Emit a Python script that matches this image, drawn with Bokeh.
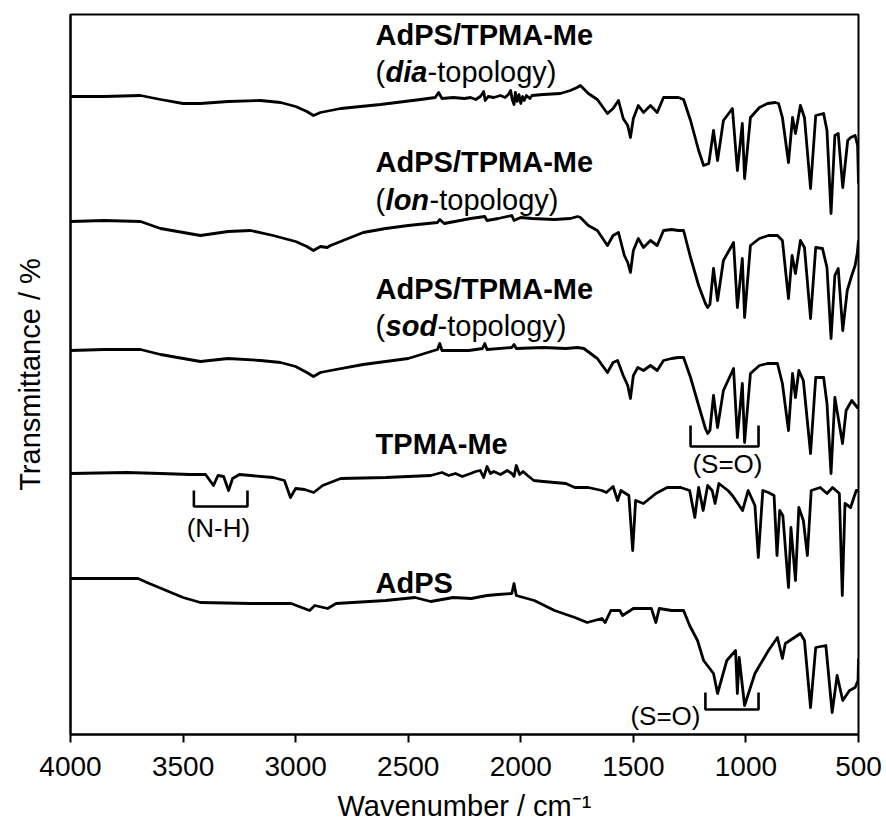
from bokeh.plotting import figure
from bokeh.models import Range1d, FixedTicker
from bokeh.core.properties import value
from bokeh.embed import file_html
from bokeh.resources import INLINE

# ---------------- data (wavenumber / cm-1, transmittance in arbitrary stacked units) -------------
wn_dia = [4000, 3850, 3689, 3600, 3500, 3423, 3300, 3156, 3067, 3000, 2950, 2921, 2890, 2845, 2800,
          2623, 2445, 2380, 2365, 2350, 2300, 2250, 2223, 2200, 2180, 2170, 2165, 2158, 2145, 2120,
          2090, 2070, 2055, 2045, 2038, 2030, 2024, 2016, 2008, 2000, 1992, 1985, 1975, 1960, 1950,
          1900, 1824, 1780, 1750, 1735, 1700, 1660, 1615, 1590, 1566,
          1545, 1525, 1513, 1500, 1478, 1455, 1424, 1394, 1366, 1330, 1300, 1277, 1246, 1210, 1188,
          1165, 1144, 1126, 1100, 1060, 1038, 1016, 1006, 980, 940, 904, 870, 855, 838, 811, 793,
          780, 758, 740, 713, 690, 655, 640, 622, 605, 590, 570, 548, 535, 515, 504, 500]
t_dia = [638, 638, 639, 635, 631, 631, 633, 634, 632, 628, 623, 619, 622, 624, 626,
         630, 635, 637, 642, 636, 637, 636, 637, 635, 638, 641, 643, 634, 638, 637,
         639, 637, 640, 644, 635, 630, 642, 633, 640, 631, 638, 634, 639, 636, 639,
         640, 641, 644, 647, 649, 641, 635, 621, 626, 634,
         616, 609, 597, 616, 629, 622, 629, 622, 637, 637, 637, 635, 614, 584, 569,
         571, 604, 574, 614, 626, 564, 611, 556, 617, 627, 631, 632, 631, 617, 572, 617,
         601, 629, 617, 546, 619, 621, 604, 521, 599, 601, 547, 594, 597, 599, 589, 551]

wn_lon = [4000, 3850, 3689, 3600, 3423, 3300, 3200, 3100, 3067, 3000, 2950, 2921, 2890, 2860, 2845,
          2700, 2600, 2500, 2370, 2360, 2340, 2223, 2160, 2150, 2100, 2040, 2030, 2000, 1950, 1850,
          1780, 1748, 1735, 1700, 1660, 1615, 1590, 1566, 1540, 1525, 1513, 1500, 1478, 1455, 1424,
          1394, 1366, 1330, 1300, 1277, 1246, 1210, 1180, 1170, 1160, 1144, 1126, 1100, 1055, 1038,
          1016, 1006, 980, 940, 900, 860, 838, 811, 795, 780, 758, 740, 713, 690, 660, 640,
          622, 605, 590, 570, 550, 530, 515, 505, 500]
t_lon = [513, 514, 513, 506, 499, 503, 504, 499, 497, 493, 488, 484, 488, 487, 489,
         502, 506, 509, 512, 515, 511, 516, 518, 514, 516, 519, 514, 517, 516, 515,
         516, 518, 517, 509, 504, 489, 499, 502, 479, 472, 462, 484, 496, 487, 494,
         489, 504, 505, 504, 504, 477, 449, 431, 427, 430, 466, 434, 474, 492, 427,
         476, 417, 489, 496, 499, 499, 494, 436, 479, 461, 494, 487, 416, 487, 486, 467,
         396, 459, 466, 404, 444, 459, 469, 482, 494]

wn_sod = [4000, 3850, 3689, 3600, 3423, 3300, 3156, 3067, 3000, 2950, 2921, 2890, 2845, 2700, 2600,
          2500, 2370, 2360, 2350, 2230, 2170, 2160, 2150, 2040, 2030, 2020, 1900, 1800, 1748, 1720,
          1660, 1615, 1590, 1570, 1545, 1525, 1513, 1500, 1480, 1455, 1424, 1394, 1366, 1330, 1300,
          1277, 1246, 1210, 1180, 1170, 1160, 1144, 1126, 1100, 1055, 1038, 1016, 1006, 980, 940,
          904, 860, 838, 811, 793, 780, 765, 745, 713, 690, 655, 640, 622, 605, 571, 555,
          530, 505, 500]
t_sod = [384, 385, 385, 380, 373, 376, 374, 372, 368, 362, 358, 362, 364, 370, 373,
         376, 385, 391, 384, 384, 386, 391, 385, 387, 390, 386, 387, 386, 387, 386,
         376, 362, 372, 374, 359, 349, 336, 359, 367, 364, 369, 364, 374, 376, 377,
         377, 357, 329, 306, 301, 304, 339, 307, 344, 366, 297, 351, 292, 361, 369,
         371, 371, 351, 304, 361, 337, 364, 354, 281, 357, 357, 331, 261, 337, 291, 324,
         334, 327, 327]

wn_tpma = [4000, 3750, 3600, 3470, 3400, 3365, 3345, 3320, 3298, 3280, 3250, 3100, 3050, 3023, 3000,
           2960, 2920, 2880, 2800, 2600, 2400, 2350, 2320, 2290, 2260, 2223, 2200, 2180, 2165, 2150,
           2135, 2120, 2090, 2060, 2040, 2030, 2020, 2005, 1990, 1970, 1942, 1900, 1800, 1760,
           1700, 1640, 1620, 1590, 1570, 1555, 1520, 1503, 1490,
           1455, 1400, 1350, 1290, 1250, 1227, 1210, 1190, 1170, 1150, 1137, 1120, 1080, 1060, 1015,
           990, 960, 945, 925, 900, 875, 862, 850, 836, 811, 800, 780, 765, 745, 727, 710,
           670, 640, 615, 585, 572, 560, 535, 510, 500]
t_tpma = [261, 262, 261, 260, 260, 249, 259, 258, 244, 256, 260, 257, 254, 237, 246,
          245, 242, 249, 256, 257, 259, 262, 259, 261, 258, 261, 263, 264, 257, 268,
          261, 263, 260, 264, 261, 258, 269, 260, 263, 259, 254, 253, 251, 247,
          247, 244, 242, 248, 234, 244, 239, 184, 234,
          231, 241, 247, 247, 244, 217, 247, 224, 249, 244, 231, 251, 244, 239, 224,
          244, 229, 177, 244, 242, 239, 179, 224, 219, 147, 207, 154, 227, 214, 179, 244,
          247, 241, 247, 241, 139, 231, 227, 244, 244]

wn_adps = [4000, 3850, 3700, 3650, 3500, 3423, 3200, 3020, 2938, 2915, 2858, 2820, 2600, 2470, 2400,
           2300, 2220, 2150, 2100, 2040, 2030, 2020, 1940, 1850, 1760, 1705, 1640, 1625, 1600, 1560,
           1548, 1500, 1420, 1400, 1385, 1330, 1277, 1250, 1215, 1188, 1144, 1126, 1085, 1046, 1038,
           1030, 1006, 960, 900, 860, 838, 825, 758, 740, 713, 690, 645, 617, 595, 583,
           570, 540, 515, 502, 500]
t_adps = [156, 156, 156, 151, 137, 132, 131, 131, 124, 129, 126, 131, 134, 137, 133,
          137, 136, 139, 140, 141, 151, 139, 134, 124, 117, 112, 116, 112, 124, 124,
          119, 126, 126, 112, 126, 124, 124, 109, 94, 74, 61, 41, 74, 84, 41,
          77, 29, 61, 84, 97, 76, 91, 101, 94, 27, 87, 89, 22, 59, 47,
          34, 44, 47, 54, 76]

series = [(wn_dia, t_dia), (wn_lon, t_lon), (wn_sod, t_sod), (wn_tpma, t_tpma), (wn_adps, t_adps)]

x_ticks = [4000, 3500, 3000, 2500, 2000, 1500, 1000, 500]

label_main = ["AdPS/TPMA-Me", "AdPS/TPMA-Me", "AdPS/TPMA-Me", "TPMA-Me", "AdPS"]
label_topo = ["dia", "lon", "sod"]

# band brackets: (wn_left, wn_right, y_bottom, y_top)
nh_bracket = (3452, 3214, 228, 244)
so_bracket_upper = (1246, 944, 288, 309)
so_bracket_lower = (1180, 944, 25, 42)

# ---------------- figure ----------------
FONT = "Liberation Sans"
p = figure(width=886, height=825, output_backend="svg", toolbar_location=None,
           x_range=Range1d(4000, 500), y_range=Range1d(0, 720),
           min_border_left=70, min_border_right=28, min_border_top=14, min_border_bottom=91)
p.background_fill_color = "white"
p.border_fill_color = "white"
p.outline_line_color = "black"
p.outline_line_width = 2
p.xgrid.visible = False
p.ygrid.visible = False

for wn, t in series:
    p.line(wn, t, line_color="black", line_width=2.8, line_join="round")

# x axis
xa = p.xaxis[0]
xa.ticker = FixedTicker(ticks=x_ticks)
xa.axis_label = "Wavenumber / cm\u207b\u00b9"
xa.axis_label_text_font = FONT
xa.axis_label_text_font_size = "29px"
xa.axis_label_text_font_style = "normal"
xa.axis_label_text_color = "black"
xa.axis_label_standoff = 11
xa.major_label_text_font = FONT
xa.major_label_text_font_size = "28px"
xa.major_label_text_color = "black"
xa.major_label_standoff = 14
xa.major_tick_in = 0
xa.major_tick_out = 8
xa.major_tick_line_width = 2
xa.major_tick_line_color = "black"
xa.minor_tick_line_color = None
xa.axis_line_width = 2
xa.axis_line_color = "black"

# y axis
ya = p.yaxis[0]
ya.ticker = FixedTicker(ticks=[])
ya.axis_label = "Transmittance / %"
ya.axis_label_text_font = FONT
ya.axis_label_text_font_size = "29px"
ya.axis_label_text_font_style = "normal"
ya.axis_label_text_color = "black"
ya.axis_label_standoff = 25
ya.major_label_text_font_size = "0px"
ya.major_tick_line_color = None
ya.minor_tick_line_color = None
ya.axis_line_width = 2
ya.axis_line_color = "black"

# labels
lab_x = 2645
lab_y1 = [700, 573, 446, 291, 152]
lab_y2 = [663, 535, 409]
word_w = {"dia": 42, "lon": 44, "sod": 52}
paren_w = 10
common = dict(text_font=value(FONT), text_font_size="29px", text_baseline="middle",
              text_align="left", text_color="black")
p.text(x=[lab_x] * 5, y=lab_y1, text=label_main, text_font_style="bold", **common)
for word, y2 in zip(label_topo, lab_y2):
    p.text(x=[lab_x], y=[y2], text=["("], text_font_style="normal", **common)
    p.text(x=[lab_x], y=[y2], text=[word], x_offset=paren_w, text_font_style="bold italic", **common)
    p.text(x=[lab_x], y=[y2], text=["-topology)"], x_offset=paren_w + word_w[word],
           text_font_style="normal", **common)

# brackets
def bracket(b):
    x0, x1, yb, yt = b
    p.line([x0, x0, x1, x1], [yt, yb, yb, yt], line_color="black", line_width=2.6)

bracket(nh_bracket)
bracket(so_bracket_upper)
bracket(so_bracket_lower)

ann = dict(text_font=value(FONT), text_font_size="26px", text_baseline="middle", text_color="black")
p.text(x=[3343], y=[207], text=["(N-H)"], text_align="center", **ann)
p.text(x=[1082], y=[271], text=["(S=O)"], text_align="center", **ann)
p.text(x=[1202], y=[19], text=["(S=O)"], text_align="right", **ann)

open("out.html", "w").write(file_html(p, INLINE))
